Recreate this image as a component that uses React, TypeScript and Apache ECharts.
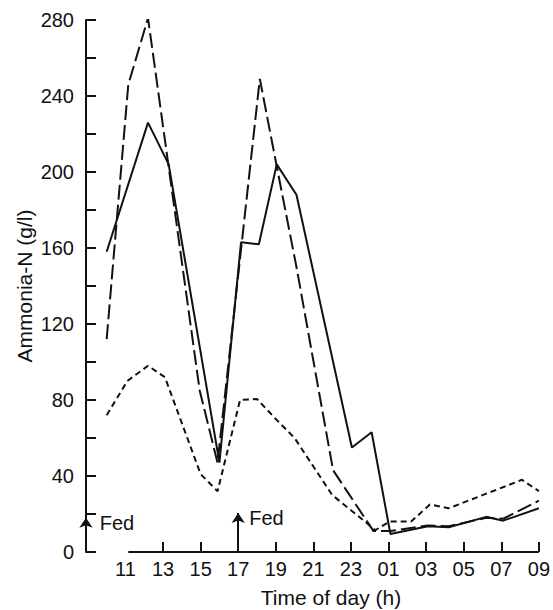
import React, { useEffect, useRef } from "react";
import * as echarts from "echarts";

// Hours are clock hours counted continuously (25 = 01 next day, 33 = 09 next day)
const solidHours = [10.0, 12.2, 13.3, 16.0, 17.15, 18.1, 19.05, 20.1, 23.05, 24.1, 25.1, 27.1, 28.2, 30.2, 31.1, 33.0];
const solidValues = [158, 226, 204, 47, 163, 162, 204, 188, 55, 63, 9.5, 13.5, 13, 18.5, 16.5, 23];

const longDashHours = [10.0, 11.15, 12.2, 14.95, 15.9, 18.15, 19.05, 20.1, 22.05, 24.2, 25.1, 27.1, 28.2, 30.2, 31.1, 33.0];
const longDashValues = [112, 246, 281, 85, 47, 249, 203, 150, 43, 11, 11, 14, 13.5, 18, 17.5, 27];

const shortDashHours = [10.0, 11.1, 12.2, 13.1, 15.0, 15.9, 17.1, 18.0, 19.0, 20.0, 21.0, 22.0, 23.0, 24.3, 25.05, 26.2, 27.2, 28.2, 32.1, 33.0];
const shortDashValues = [72, 90, 98, 92, 41, 32, 80, 80.5, 70, 60, 45, 30, 22, 11.5, 16, 16, 25, 23, 38, 32];

const xTickHours = [13, 15, 17, 19, 21, 23, 25, 27, 29, 31, 33];
const xLabelHours = [11, 13, 15, 17, 19, 21, 23, 25, 27, 29, 31, 33];

const fedHours = [8.9, 17];
const fedArrowTops = [18, 20.5];
const fedLabelPos = [[10.55, 15.4], [18.5, 17.8]];

const X_MIN = 8.9;
const X_MAX = 33;
const AXIS_START = 11.15;

const INK = "#111";
const FONT = "Liberation Sans, Arial, Helvetica, sans-serif";

export default function App() {
  const ref = useRef<HTMLDivElement>(null);

  useEffect(() => {
    document.body.style.margin = "0";
    if (!ref.current) return;
    const chart = echarts.init(ref.current, undefined, { renderer: "svg" });

    const toPairs = (hs: number[], vs: number[]) => hs.map((h, i) => [h, vs[i]]);

    const arrowLines = fedHours.map((h, i) => [
      { coord: [h, 0], symbol: "none" },
      { coord: [h, fedArrowTops[i]], symbol: "arrow" },
    ]);

    const option: any = {
      animation: false,
      grid: { left: 86, right: 13.7, top: 20, bottom: 58 },
      xAxis: {
        type: "value",
        min: X_MIN,
        max: X_MAX,
        axisLine: { show: false },
        splitLine: { show: false },
        axisTick: {
          show: true,
          inside: true,
          length: 10,
          customValues: xTickHours,
          lineStyle: { color: INK, width: 2 },
        },
        axisLabel: {
          customValues: xLabelHours,
          margin: 7,
          fontSize: 20,
          color: INK,
          fontFamily: FONT,
          formatter: (v: number) => {
            const h = Math.round(v) % 24;
            return h < 10 ? "0" + h : String(h);
          },
        },
      },
      yAxis: {
        type: "value",
        min: 0,
        max: 280,
        interval: 20,
        name: "Ammonia-N (g/l)",
        nameLocation: "middle",
        nameGap: 51,
        nameMoveOverlap: false,
        nameTextStyle: { fontSize: 21, color: INK, fontFamily: FONT },
        axisLine: { show: true, lineStyle: { color: INK, width: 2 } },
        axisTick: { show: true, inside: true, length: 10, lineStyle: { color: INK, width: 2 } },
        splitLine: { show: false },
        axisLabel: {
          margin: 12,
          fontSize: 20,
          color: INK,
          fontFamily: FONT,
          formatter: (v: number) => (v % 40 === 0 ? String(v) : ""),
        },
      },
      graphic: [
        {
          type: "text",
          x: 331,
          y: 597,
          style: {
            text: "Time of day (h)",
            fontSize: 21,
            fill: INK,
            fontFamily: FONT,
            align: "center",
            verticalAlign: "middle",
          },
        },
      ],
      series: [
        {
          type: "line",
          name: "solid",
          data: toPairs(solidHours, solidValues),
          showSymbol: false,
          symbol: "none",
          lineStyle: { color: INK, width: 2, type: "solid" },
          markLine: {
            silent: true,
            animation: false,
            label: { show: false },
            symbol: ["none", "none"],
            symbolSize: 10,
            lineStyle: { color: INK, width: 2, type: "solid" },
            data: [
              [
                { coord: [AXIS_START, 0], symbol: "none" },
                { coord: [X_MAX, 0], symbol: "none" },
              ],
              ...arrowLines,
            ],
          },
          markPoint: {
            silent: true,
            symbol: "circle",
            symbolSize: 0,
            itemStyle: { color: "transparent" },
            label: {
              show: true,
              position: "inside",
              formatter: "Fed",
              fontSize: 20,
              color: INK,
              fontFamily: FONT,
            },
            data: fedLabelPos.map((c) => ({ coord: c })),
          },
        },
        {
          type: "line",
          name: "long",
          data: toPairs(longDashHours, longDashValues),
          showSymbol: false,
          symbol: "none",
          lineStyle: { color: INK, width: 2, type: [15, 5] },
        },
        {
          type: "line",
          name: "short",
          data: toPairs(shortDashHours, shortDashValues),
          showSymbol: false,
          symbol: "none",
          lineStyle: { color: INK, width: 2, type: [6, 4] },
        },
      ],
    };

    chart.setOption(option);
    return () => chart.dispose();
  }, []);

  return <div ref={ref} style={{ width: 553, height: 610 }} />;
}
